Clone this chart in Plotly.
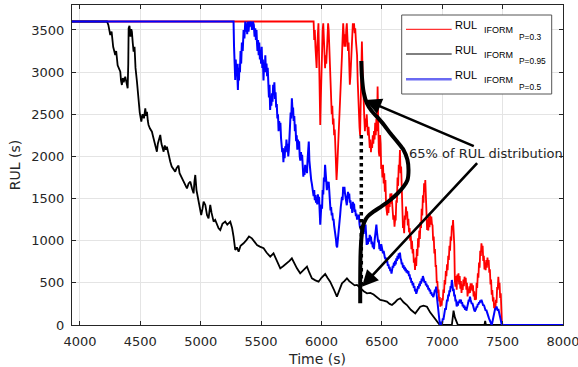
import plotly.graph_objects as go

# ---------------- data ----------------
x_ticks = [4000, 4500, 5000, 5500, 6000, 6500, 7000, 7500, 8000]
y_ticks = [0, 500, 1000, 1500, 2000, 2500, 3000, 3500]

red_name = "RUL_IFORM_P=0.3"
black_name = "RUL_IFORM_P=0.95"
blue_name = "RUL_IFORM_P=0.5"

black_t = [3934, 4224, 4235, 4251, 4262, 4275, 4292, 4300, 4312, 4325, 4334, 4340, 4347, 4355, 4362, 4375,
           4385, 4395, 4400, 4403, 4410, 4418, 4425, 4430, 4437, 4444, 4452, 4460, 4472, 4480, 4486, 4495,
           4508, 4518, 4530, 4541, 4548, 4555, 4562, 4568, 4580, 4596, 4605, 4618, 4627, 4637, 4645, 4655,
           4665, 4675, 4685, 4693, 4702, 4712, 4720, 4735, 4748, 4760, 4775, 4789, 4800, 4816, 4825, 4838,
           4850, 4862, 4875, 4886, 4900, 4914, 4928, 4941, 4948, 4955, 4965, 4982, 4990, 5004, 5015, 5024,
           5038, 5052, 5065, 5079, 5090, 5107, 5120, 5135, 5148, 5162, 5180, 5203, 5220, 5245, 5260, 5272,
           5286, 5300, 5314, 5330, 5355, 5380, 5400, 5424, 5445, 5466, 5490, 5521, 5545, 5576, 5603, 5630,
           5659, 5685, 5714, 5735, 5755, 5775, 5797, 5824, 5850, 5880, 5900, 5921, 5950, 5976, 6000, 6031,
           6050, 6072, 6100, 6128, 6150, 6170, 6190, 6211, 6230, 6252, 6275, 6294, 6321, 6350, 6377, 6405,
           6432, 6460, 6487, 6515, 6542, 6565, 6584, 6610, 6630, 6653, 6680, 6708, 6740, 6777, 6800, 6818,
           6845, 6874, 6900, 6928, 6950, 6970, 6980, 7080, 7094, 7105, 7130, 7350, 7356, 7362, 8000]
black_rul = [3600, 3600, 3560, 3440, 3480, 3300, 3203, 3250, 3080, 3030, 3005, 2900, 2847, 2930, 2880, 2946,
             2870, 2808, 3100, 3520, 3550, 3420, 3510, 3480, 3350, 3243, 3300, 3050, 2887, 2750, 2650, 2520,
             2412, 2500, 2452, 2570, 2480, 2530, 2420, 2373, 2330, 2293, 2240, 2175, 2120, 2056, 2150, 2200,
             2254, 2150, 2100, 2056, 2130, 2080, 2115, 2000, 1937, 1880, 1850, 1819, 1860, 1890, 1800, 1760,
             1740, 1700, 1650, 1621, 1680, 1700, 1620, 1562, 1700, 1780, 1600, 1463, 1380, 1305, 1380, 1463,
             1424, 1305, 1266, 1424, 1330, 1226, 1246, 1180, 1147, 1127, 1200, 1226, 1190, 1226, 1150, 1048,
             890, 920, 870, 940, 969, 1010, 1050, 1028, 990, 949, 930, 910, 860, 811, 850, 760,
             672, 700, 732, 760, 791, 730, 672, 613, 650, 692, 620, 554, 530, 514, 560, 605,
             560, 514, 430, 336, 420, 494, 520, 554, 520, 494, 470, 475, 435, 400, 376, 380,
             362, 330, 297, 290, 277, 250, 237, 270, 300, 317, 270, 237, 180, 138, 190, 217,
             230, 217, 150, 99, 50, 10, 0, 0, 170, 90, 0, 0, 50, 0, 0]

blue_t = [3934, 5272, 5276, 5280, 5283, 5286, 5290, 5295, 5300, 5304, 5308, 5313, 5317, 5320, 5325, 5330,
          5335, 5341, 5348, 5355, 5362, 5369, 5375, 5380, 5385, 5390, 5396, 5403, 5410, 5418, 5425, 5432,
          5440, 5446, 5452, 5457, 5462, 5466, 5470, 5475, 5480, 5485, 5490, 5495, 5500, 5505, 5510, 5515,
          5520, 5525, 5530, 5535, 5540, 5545, 5550, 5555, 5560, 5565, 5570, 5575, 5580, 5585, 5590, 5595,
          5600, 5605, 5610, 5615, 5620, 5625, 5630, 5635, 5640, 5645, 5650, 5655, 5660, 5665, 5670, 5675,
          5680, 5685, 5690, 5695, 5700, 5705, 5710, 5715, 5720, 5725, 5730, 5735, 5740, 5745, 5750, 5755,
          5760, 5765, 5770, 5775, 5780, 5785, 5790, 5795, 5800, 5805, 5810, 5815, 5820, 5825, 5830, 5835,
          5840, 5845, 5850, 5855, 5860, 5865, 5870, 5875, 5880, 5885, 5890, 5895, 5900, 5905, 5910, 5915,
          5920, 5925, 5930, 5935, 5940, 5945, 5950, 5955, 5960, 5965, 5970, 5975, 5980, 5985, 5990, 5995,
          6000, 6005, 6010, 6015, 6020, 6025, 6030, 6035, 6040, 6045, 6050, 6055, 6060, 6065, 6070, 6075,
          6080, 6085, 6090, 6095, 6100, 6105, 6110, 6115, 6120, 6125, 6130, 6135, 6140, 6145, 6150, 6155,
          6160, 6165, 6170, 6175, 6180, 6185, 6190, 6195, 6200, 6205, 6210, 6215, 6220, 6225, 6230, 6235,
          6240, 6245, 6250, 6255, 6260, 6265, 6270, 6275, 6280, 6285, 6290, 6295, 6300, 6305, 6310, 6315,
          6320, 6325, 6330, 6335, 6340, 6345, 6350, 6355, 6360, 6365, 6370, 6375, 6380, 6385, 6390, 6395,
          6400, 6405, 6410, 6415, 6420, 6425, 6430, 6435, 6440, 6445, 6450, 6455, 6460, 6465, 6470, 6475,
          6480, 6485, 6490, 6495, 6500, 6505, 6510, 6515, 6520, 6525, 6530, 6535, 6540, 6545, 6550, 6555,
          6560, 6565, 6570, 6575, 6580, 6585, 6590, 6595, 6600, 6605, 6610, 6615, 6620, 6625, 6630, 6635,
          6640, 6645, 6650, 6655, 6660, 6665, 6670, 6675, 6680, 6685, 6690, 6695, 6700, 6705, 6710, 6715,
          6720, 6725, 6730, 6735, 6740, 6745, 6750, 6755, 6760, 6765, 6770, 6775, 6780, 6785, 6790, 6795,
          6800, 6805, 6810, 6815, 6820, 6825, 6830, 6835, 6840, 6845, 6850, 6855, 6860, 6865, 6870, 6875,
          6880, 6885, 6890, 6895, 6900, 6905, 6910, 6915, 6920, 6925, 6930, 6935, 6940, 6945, 6950, 6955,
          6960, 6965, 6970, 6975, 6980, 6985, 6990, 6995, 7000, 7005, 7010, 7015, 7020, 7025, 7030, 7035,
          7040, 7045, 7050, 7055, 7060, 7065, 7070, 7075, 7080, 7085, 7090, 7095, 7100, 7105, 7110, 7115,
          7120, 7125, 7130, 7135, 7140, 7145, 7150, 7155, 7160, 7165, 7170, 7175, 7180, 7185, 7190, 7195,
          7200, 7205, 7210, 7215, 7220, 7225, 7230, 7235, 7240, 7245, 7250, 7255, 7260, 7265, 7270, 7275,
          7280, 7285, 7290, 7295, 7300, 7305, 7310, 7315, 7320, 7325, 7330, 7335, 7340, 7345, 7350, 7355,
          7360, 7365, 7370, 7375, 7380, 7385, 7390, 7395, 7400, 7405, 7410, 7415, 7420, 7425, 7430, 7435,
          7440, 7445, 7450, 7455, 7460, 7465, 7470, 7475, 7480, 7485, 7490, 7494, 8000]
blue_rul = [3600, 3600, 3300, 3050, 3250, 2906, 3150, 2950, 3100, 2850, 2788, 3050, 2900, 3100, 3000, 3250,
            3100, 3350, 3250, 3500, 3400, 3600, 3480, 3580, 3450, 3600, 3480, 3600, 3540, 3600, 3500, 3600,
            3560, 3420, 3520, 3380, 3500, 3350, 3250, 3380, 3200, 3350, 3150, 3250, 3100, 3300, 3050, 3150,
            2900, 3100, 3000, 3200, 3000, 3100, 2950, 3050, 2800, 2700, 2850, 2550, 2700, 2600, 2750, 2650,
            2850, 2750, 2880, 2680, 2760, 2580, 2620, 2450, 2500, 2300, 2420, 2330, 2400, 2220, 2150, 2050,
            2100, 1930, 2080, 1980, 2120, 2050, 2200, 2100, 2150, 2000, 2080, 2230, 2350, 2520, 2450, 2690,
            2550, 2580, 2420, 2480, 2300, 2380, 2180, 2250, 2080, 2200, 2120, 2180, 2000, 1950, 2050, 1980,
            2020, 1850, 1760, 1840, 1780, 1900, 1820, 1880, 1800, 1960, 2100, 2175, 1950, 1850, 1780, 1720,
            1680, 1620, 1580, 1530, 1600, 1480, 1540, 1450, 1500, 1430, 1550, 1480, 1520, 1300, 1190, 1320,
            1430, 1380, 1600, 1550, 1750, 1700, 1900, 1780, 1650, 1600, 1700, 1640, 1700, 1520, 1420, 1360,
            1400, 1300, 1330, 1240, 1260, 1180, 1140, 1090, 1020, 940, 920, 1000, 1060, 1150, 1250, 1310,
            1400, 1450, 1520, 1480, 1640, 1560, 1640, 1560, 1520, 1440, 1420, 1520, 1580, 1500, 1560, 1450,
            1480, 1380, 1420, 1330, 1460, 1400, 1440, 1340, 1370, 1290, 1320, 1250, 1300, 1260, 1310, 1200,
            1150, 1180, 1100, 1160, 1090, 1130, 1080, 1180, 1120, 1190, 1040, 950, 1000, 960, 1030, 990,
            1070, 1020, 1050, 960, 990, 920, 950, 900, 1000, 1060, 1120, 1190, 1100, 1040, 980, 1010,
            900, 940, 880, 960, 920, 880, 850, 880, 820, 800, 780, 800, 740, 760, 700, 720,
            670, 690, 640, 660, 610, 640, 700, 680, 740, 700, 760, 720, 790, 760, 820, 780,
            850, 800, 860, 790, 770, 720, 740, 680, 710, 660, 690, 640, 670, 620, 650, 610,
            640, 580, 600, 540, 560, 500, 520, 470, 500, 440, 460, 400, 430, 370, 390, 420,
            460, 430, 490, 460, 520, 490, 550, 520, 580, 550, 530, 500, 520, 470, 490, 450,
            470, 420, 440, 400, 420, 370, 390, 350, 370, 330, 350, 380, 420, 400, 455, 350,
            260, 200, 150, 80, 20, 0, 10, 40, 20, 80, 60, 140, 120, 200, 180, 260,
            300, 280, 360, 340, 410, 390, 460, 440, 534, 480, 400, 430, 340, 360, 280, 300,
            220, 250, 230, 280, 260, 300, 280, 300, 250, 270, 220, 240, 200, 230, 180, 210,
            170, 190, 230, 260, 300, 280, 336, 300, 280, 250, 260, 220, 200, 180, 160, 170,
            190, 220, 210, 250, 240, 270, 260, 290, 270, 300, 280, 250, 230, 240, 200, 210,
            170, 180, 150, 130, 110, 90, 70, 50, 30, 10, 0, 30, 80, 110, 150, 170,
            200, 190, 220, 200, 170, 190, 150, 140, 100, 60, 20, 0, 0]

red_t = [3934, 5935, 5940, 5945, 5950, 5955, 5960, 5965, 5970, 5975, 5980, 5985, 5990, 5995, 6000, 6005,
         6010, 6015, 6020, 6025, 6030, 6035, 6040, 6045, 6050, 6055, 6060, 6065, 6070, 6075, 6080, 6085,
         6090, 6095, 6100, 6105, 6110, 6115, 6120, 6125, 6130, 6135, 6140, 6145, 6150, 6155, 6160, 6165,
         6170, 6175, 6180, 6185, 6190, 6195, 6200, 6205, 6210, 6215, 6220, 6225, 6230, 6235, 6240, 6245,
         6250, 6255, 6260, 6265, 6270, 6275, 6280, 6285, 6290, 6295, 6300, 6305, 6310, 6315, 6320, 6325,
         6330, 6335, 6340, 6345, 6350, 6355, 6360, 6365, 6370, 6375, 6380, 6385, 6390, 6395, 6400, 6405,
         6410, 6415, 6420, 6425, 6430, 6435, 6440, 6445, 6450, 6455, 6460, 6465, 6470, 6475, 6480, 6485,
         6490, 6495, 6500, 6505, 6510, 6515, 6520, 6525, 6530, 6535, 6540, 6545, 6550, 6555, 6560, 6565,
         6570, 6575, 6580, 6585, 6590, 6595, 6600, 6605, 6610, 6615, 6620, 6625, 6630, 6635, 6640, 6645,
         6650, 6655, 6660, 6665, 6670, 6675, 6680, 6685, 6690, 6695, 6700, 6705, 6710, 6715, 6720, 6725,
         6730, 6735, 6740, 6745, 6750, 6755, 6760, 6765, 6770, 6775, 6780, 6785, 6790, 6795, 6800, 6805,
         6810, 6815, 6820, 6825, 6830, 6835, 6840, 6845, 6850, 6855, 6860, 6865, 6870, 6875, 6880, 6885,
         6890, 6895, 6900, 6905, 6910, 6915, 6920, 6925, 6930, 6935, 6940, 6945, 6950, 6955, 6960, 6965,
         6970, 6975, 6980, 6985, 6990, 6995, 7000, 7005, 7010, 7015, 7020, 7025, 7030, 7035, 7040, 7045,
         7050, 7055, 7060, 7065, 7070, 7075, 7080, 7085, 7090, 7095, 7100, 7105, 7110, 7115, 7120, 7125,
         7130, 7135, 7140, 7145, 7150, 7155, 7160, 7165, 7170, 7175, 7180, 7185, 7190, 7195, 7200, 7205,
         7210, 7215, 7220, 7225, 7230, 7235, 7240, 7245, 7250, 7255, 7260, 7265, 7270, 7275, 7280, 7285,
         7290, 7295, 7300, 7305, 7310, 7315, 7320, 7325, 7330, 7335, 7340, 7345, 7350, 7355, 7360, 7365,
         7370, 7375, 7380, 7385, 7390, 7395, 7400, 7405, 7410, 7415, 7420, 7425, 7430, 7435, 7440, 7445,
         7450, 7455, 7460, 7465, 7470, 7475, 7480, 7485, 7490, 7494, 7500, 8000]
red_rul = [3600, 3600, 3380, 3500, 3300, 3150, 3050, 3300, 3500, 3580, 3200, 2800, 2373, 2700, 3100, 3300,
           3500, 3580, 3450, 3250, 3045, 3200, 3100, 3250, 3400, 3580, 3500, 3250, 3000, 2850, 2650, 2500,
           2600, 2380, 2450, 2250, 2320, 2175, 1950, 1720, 1850, 2000, 2150, 2350, 2550, 2700, 2900, 3050,
           3200, 3400, 3580, 3450, 3300, 3450, 3300, 3500, 3580, 3420, 3250, 3350, 3050, 2850, 2950, 3150,
           3350, 3500, 3580, 3500, 3580, 3460, 3520, 3380, 3300, 3200, 2900, 2600, 2480, 2350, 2250, 2600,
           3000, 3362, 3050, 2750, 2600, 2450, 2300, 2450, 2350, 2500, 2350, 2250, 2350, 2150, 2100, 2200,
           2050, 2150, 2100, 2250, 2150, 2300, 2200, 2400, 2250, 2450, 2300, 2828, 2300, 2050, 2000, 2254,
           2150, 1850, 1900, 1750, 1900, 1680, 1800, 1580, 1720, 1420, 1380, 1300, 1460, 1330, 1480, 1400,
           1560, 1440, 1563, 1400, 1420, 1250, 1300, 1166, 1250, 1250, 1480, 1450, 1750, 1650, 1900, 1850,
           2076, 1800, 1880, 1550, 1550, 1150, 1200, 1088, 1300, 1250, 1404, 1300, 1350, 1180, 1260, 1100,
           1150, 1000, 1060, 900, 1000, 850, 900, 740, 780, 653, 800, 700, 900, 820, 1030, 920,
           1120, 1020, 1220, 1150, 1380, 1300, 1540, 1450, 1680, 1580, 1720, 1350, 1330, 1127, 1250, 1120,
           1280, 1160, 1300, 1190, 1285, 1200, 1180, 1000, 1050, 850, 900, 700, 700, 500, 520, 376,
           420, 280, 330, 217, 280, 230, 320, 290, 420, 380, 534, 480, 640, 580, 720, 650,
           820, 771, 940, 880, 1050, 1000, 1180, 1127, 1246, 1100, 950, 520, 455, 580, 420, 600,
           520, 613, 480, 580, 430, 520, 380, 480, 415, 540, 460, 573, 500, 560, 420, 500,
           340, 430, 376, 460, 380, 494, 420, 494, 400, 470, 340, 400, 297, 330, 300, 500,
           440, 613, 560, 740, 680, 880, 820, 969, 900, 940, 760, 820, 660, 740, 650, 771,
           680, 800, 720, 771, 620, 660, 480, 540, 360, 415, 280, 330, 200, 260, 178, 300,
           260, 450, 420, 573, 440, 500, 320, 376, 120, 40, 0, 0]

assert len(black_t) == len(black_rul)
assert len(blue_t) == len(blue_rul)
assert len(red_t) == len(red_rul)

# annotation: sketched RUL distribution (sideways bell curve), dotted marker, arrows, label
dist_t = [6330, 6335, 6350, 6376, 6415, 6459, 6520, 6570, 6630, 6680, 6712, 6721, 6712, 6680, 6630,
          6570, 6500, 6431, 6385, 6363, 6345, 6335, 6327, 6323, 6321, 6321]
dist_rul = [3132, 2950, 2760, 2630, 2540, 2471, 2370, 2274, 2170, 2076, 1960, 1839, 1720, 1641, 1560,
            1483, 1410, 1344, 1290, 1246, 1180, 1088, 950, 800, 550, 257]
dot_t = [6330, 6330]
dot_rul = [2254, 430]
label_text = "65% of RUL distribution"
label_t, label_rul = 6712, 2037
arrow_heads = [(6362, 2669), (6335, 455)]
arrow_tails = [(7274, 2115), (7301, 1937)]

# ---------------- figure ----------------
INK = "#262626"
fig = go.Figure()
fig.add_trace(go.Scatter(x=red_t, y=red_rul, mode="lines", name=red_name,
                         line=dict(color="#ff0000", width=1.8)))
fig.add_trace(go.Scatter(x=black_t, y=black_rul, mode="lines", name=black_name,
                         line=dict(color="#000000", width=1.8)))
fig.add_trace(go.Scatter(x=blue_t, y=blue_rul, mode="lines", name=blue_name,
                         line=dict(color="#0000ff", width=2.0)))
fig.add_trace(go.Scatter(x=dist_t, y=dist_rul, mode="lines", showlegend=False,
                         line=dict(color="#000000", width=4, shape="spline", smoothing=0.8)))
fig.add_trace(go.Scatter(x=dot_t, y=dot_rul, mode="lines", showlegend=False,
                         line=dict(color="#000000", width=3.5, dash="dot")))

annotations = []
for (hx, hy), (tx, ty) in zip(arrow_heads, arrow_tails):
    annotations.append(dict(x=hx, y=hy, ax=tx, ay=ty, xref="x", yref="y", axref="x", ayref="y",
                            text="", showarrow=True, arrowhead=2, arrowsize=1.25, arrowwidth=2.6,
                            arrowcolor="#000000"))
annotations.append(dict(x=label_t, y=label_rul, xref="x", yref="y", text=label_text, showarrow=False,
                        xanchor="left", yanchor="middle",
                        font=dict(family="DejaVu Sans", size=13, color=INK)))

# custom legend box (MATLAB style with nested subscripts)
L, R, T, B = 72, 563, 5, 325
def px_x(p):
    return (p - L) / (R - L)
def px_y(p):
    return (B - p) / (B - T)

shapes = [dict(type="rect", xref="paper", yref="paper", x0=px_x(401.7), x1=px_x(551.7),
               y0=px_y(94), y1=px_y(15), line=dict(color="#555555", width=1), fillcolor="white",
               layer="above")]
legend_rows = [("#ff0000", 1, "P=0.3"), ("#000000", 1, "P=0.95"), ("#6a6af2", 2.5, "P=0.5")]
row_dy = [0, 24.7, 50]
for (col, w, sub2), dy in zip(legend_rows, row_dy):
    shapes.append(dict(type="line", xref="paper", yref="paper", x0=px_x(406), x1=px_x(451.7),
                       y0=px_y(29.3 + dy), y1=px_y(29.3 + dy), line=dict(color=col, width=w),
                       layer="above"))
    annotations.append(dict(x=px_x(453), y=px_y(25.3 + dy), xref="paper", yref="paper", text="RUL",
                            showarrow=False, xanchor="left", yanchor="middle",
                            font=dict(family="Liberation Sans", size=11, color="#000000")))
    annotations.append(dict(x=px_x(481.5), y=px_y(30 + dy), xref="paper", yref="paper", text="IFORM",
                            showarrow=False, xanchor="left", yanchor="middle",
                            font=dict(family="Liberation Sans", size=9, color="#000000")))
    annotations.append(dict(x=px_x(516.5), y=px_y(36.8 + dy), xref="paper", yref="paper", text=sub2,
                            showarrow=False, xanchor="left", yanchor="middle",
                            font=dict(family="Liberation Sans", size=8.4, color="#000000")))

axis_common = dict(ticks="inside", ticklen=4, tickcolor=INK, showline=True, linecolor=INK,
                   linewidth=1, mirror="allticks", showgrid=True, gridcolor="#e4e4e4", gridwidth=1,
                   zeroline=False, tickfont=dict(family="DejaVu Sans", size=13, color=INK),
                   ticklabelstandoff=4, ticklabeloverflow="allow", automargin=False)
fig.update_layout(
    width=578, height=367,
    margin=dict(l=L, r=578 - R, t=T, b=367 - B, autoexpand=False),
    paper_bgcolor="white", plot_bgcolor="white",
    showlegend=False,
    xaxis=dict(range=[3934, 8000.5], tickvals=x_ticks, ticktext=[str(v) for v in x_ticks],
               title=dict(text="Time (s)", font=dict(family="DejaVu Sans", size=14, color=INK),
                          standoff=6),
               **axis_common),
    yaxis=dict(range=[0, 3796], tickvals=y_ticks, ticktext=[str(v) for v in y_ticks],
               title=dict(text="RUL (s)", font=dict(family="DejaVu Sans", size=14, color=INK),
                          standoff=7),
               **axis_common),
    annotations=annotations,
    shapes=shapes,
)
fig.write_html("out.html", config={"displayModeBar": False})
